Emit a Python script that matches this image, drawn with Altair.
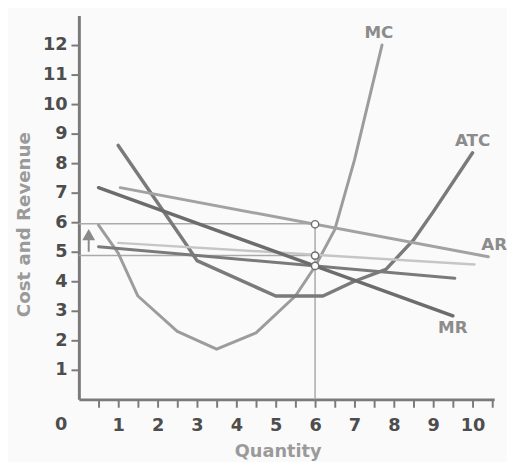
import altair as alt
import pandas as pd

# ---- data ----
mc_x = [0.5, 1.0, 1.5, 2.5, 3.5, 4.5, 5.5, 6.0, 6.5, 7.0, 7.7]
mc_y = [5.9, 4.95, 3.5, 2.3, 1.7, 2.25, 3.5, 4.5, 5.75, 8.1, 12.0]

atc_x = [1.0, 2.75, 3.0, 5.0, 6.2, 7.0, 7.8, 8.5, 9.0, 10.0]
atc_y = [8.6, 5.2, 4.7, 3.5, 3.5, 4.0, 4.4, 5.4, 6.35, 8.35]

mr_x = [0.5, 9.5]
mr_y = [7.17, 2.83]

ar_x = [1.05, 10.4]
ar_y = [7.17, 4.83]

light_x = [1.0, 10.05]
light_y = [5.3, 4.57]

dark_x = [0.5, 9.55]
dark_y = [5.17, 4.1]

guide_h_y = [5.95, 4.87]
guide_h_x0 = [0, 0]
guide_h_x1 = [6, 6]
guide_v_x = [6]
guide_v_y1 = [5.95]

circle_x = [6, 6, 6]
circle_y = [5.93, 4.87, 4.52]

arrow_x = [0.25]
arrow_y0 = [5.0]
arrow_y1 = [5.5]
arrow_head_y = [5.58]

label_text = ["MC", "ATC", "MR", "AR"]
label_x = [7.62, 10.0, 9.5, 10.22]
label_y = [12.4, 8.75, 2.4, 5.23]
label_align = ["center", "center", "center", "left"]

x_ticks = [0.5 * i for i in range(1, 22)]
y_ticks = list(range(1, 13))
zero_label = ["0"]

FONT = "DejaVu Sans"
W, H = 422, 390

xs = alt.Scale(domain=[0, 10.55], nice=False, zero=False)
ys = alt.Scale(domain=[0, 13], nice=False, zero=False)

X_AX = alt.Axis(
    values=x_ticks,
    labelExpr="datum.value % 1 == 0 ? datum.value : ''",
    grid=False, domainColor="#7a7a7a", domainWidth=3,
    tickColor="#7a7a7a", tickWidth=2, tickSize=8,
    labelFont=FONT, labelFontSize=18, labelFontWeight="bold", labelColor="#4d4d4d",
    labelPadding=10, labelFlush=False, labelOverlap=False,
    title="Quantity", titleFont=FONT, titleFontSize=18, titleFontWeight="bold",
    titleColor="#9a9a9a", titleX=202, titleY=58, titleBaseline="alphabetic",
    titleAlign="center")
Y_AX = alt.Axis(
    values=y_ticks, grid=False, domainColor="#7a7a7a", domainWidth=3,
    tickColor="#7a7a7a", tickWidth=2, tickSize=8,
    labelFont=FONT, labelFontSize=18, labelFontWeight="bold", labelColor="#4d4d4d",
    labelPadding=4, labelOverlap=False,
    title="Cost and Revenue", titleFont=FONT, titleFontSize=18.5, titleFontWeight="bold",
    titleColor="#9a9a9a", titleX=-50, titleY=212, titleBaseline="alphabetic",
    titleAlign="center")


def X(field):
    return alt.X(field, scale=xs, axis=X_AX, title="Quantity")


def Y(field):
    return alt.Y(field, scale=ys, axis=Y_AX, title="Cost and Revenue")


def line_layer(xv, yv, color, width):
    df = pd.DataFrame({"x": xv, "y": yv, "o": list(range(len(xv)))})
    return alt.Chart(df).mark_line(color=color, strokeWidth=width, strokeCap="round",
                                   strokeJoin="round").encode(
        x=X("x:Q"), y=Y("y:Q"), order="o:Q")


# guides
gh = alt.Chart(pd.DataFrame({"x0": guide_h_x0, "x1": guide_h_x1, "y": guide_h_y})).mark_rule(
    color="#aaaaaa", strokeWidth=1.5).encode(x=X("x0:Q"), x2="x1:Q", y=Y("y:Q"))
gv = alt.Chart(pd.DataFrame({"x": guide_v_x, "y0": [0], "y1": guide_v_y1})).mark_rule(
    color="#aaaaaa", strokeWidth=1.5).encode(x=X("x:Q"), y=Y("y0:Q"), y2="y1:Q")

mc = line_layer(mc_x, mc_y, "#9c9c9c", 3)
atc = line_layer(atc_x, atc_y, "#7a7a7a", 3.5)
light = line_layer(light_x, light_y, "#c6c6c6", 2.5)
dark = line_layer(dark_x, dark_y, "#7a7a7a", 3)
ar = line_layer(ar_x, ar_y, "#a2a2a2", 3)
mr = line_layer(mr_x, mr_y, "#6c6c6c", 3.5)

circles = alt.Chart(pd.DataFrame({"x": circle_x, "y": circle_y})).mark_point(
    shape="circle", filled=True, fill="white", stroke="#707070", strokeWidth=1.5,
    size=55, opacity=1).encode(x=X("x:Q"), y=Y("y:Q"))

arrow_shaft = alt.Chart(pd.DataFrame({"x": arrow_x, "y0": arrow_y0, "y1": arrow_y1})).mark_rule(
    color="#8a8a8a", strokeWidth=2).encode(x=X("x:Q"), y=Y("y0:Q"), y2="y1:Q")
arrow_head = alt.Chart(pd.DataFrame({"x": arrow_x, "y": arrow_head_y})).mark_point(
    shape="triangle-up", filled=True, color="#8a8a8a", size=170, opacity=1).encode(
    x=X("x:Q"), y=Y("y:Q"))

labels_df = pd.DataFrame({"t": label_text, "x": label_x, "y": label_y, "a": label_align})
lab_c = alt.Chart(labels_df[labels_df.a == "center"]).mark_text(
    font=FONT, fontSize=17, fontWeight="bold", color="#8c8c8c", align="center",
    baseline="middle").encode(x=X("x:Q"), y=Y("y:Q"), text="t:N")
lab_l = alt.Chart(labels_df[labels_df.a == "left"]).mark_text(
    font=FONT, fontSize=17, fontWeight="bold", color="#8c8c8c", align="left",
    baseline="middle").encode(x=X("x:Q"), y=Y("y:Q"), text="t:N")

zero = alt.Chart(pd.DataFrame({"t": zero_label})).mark_text(
    font=FONT, fontSize=18, fontWeight="bold", color="#4d4d4d", align="center",
    baseline="alphabetic").encode(
    x=alt.value(-18), y=alt.value(H + 31), text="t:N")

chart = alt.layer(
    gh, gv, mc, atc, light, dark, ar, mr, circles, arrow_shaft, arrow_head,
    lab_c, lab_l, zero
).properties(
    width=W, height=H,
    autosize=alt.AutoSizeParams(type="none"),
    padding={"left": 72, "top": 4, "right": 13, "bottom": 60},
    background="#fafafa",
).configure_view(stroke=None)

chart.save("out.html", embed_options={"renderer": "svg", "actions": False})
